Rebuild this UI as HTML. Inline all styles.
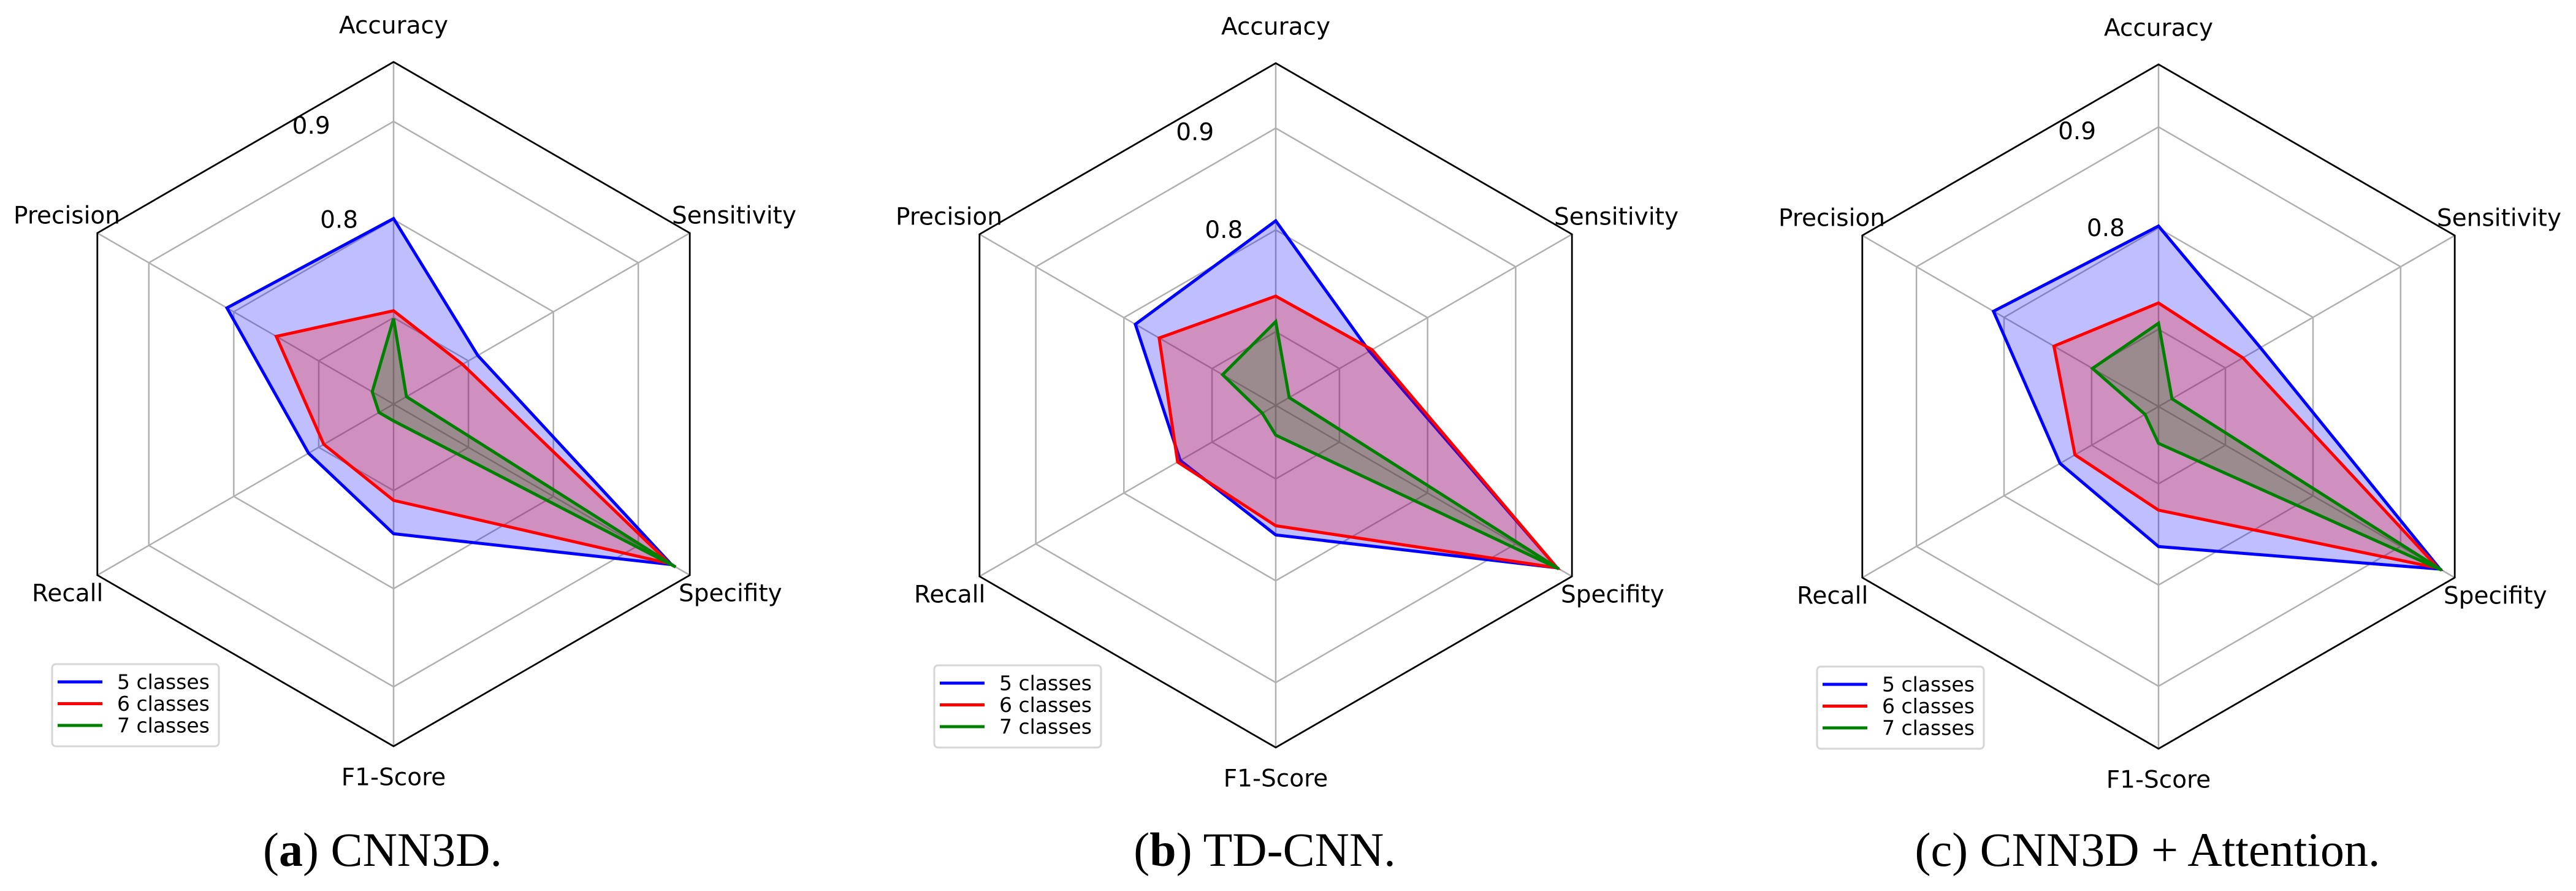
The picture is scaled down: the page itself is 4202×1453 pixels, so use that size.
<!DOCTYPE html>
<html><head><meta charset="utf-8">
<style>
html,body{margin:0;padding:0;background:#fff;}
svg{display:block;}
text{font-family:"DejaVu Sans","Liberation Sans",sans-serif;}
.cap{font-family:"Liberation Serif",serif;}
</style></head>
<body>
<svg id="fig" width="4202" height="1453" viewBox="0 0 4202 1453" xmlns="http://www.w3.org/2000/svg"></svg>
<script>
const categories = ["Accuracy","Sensitivity","Specifity","F1-Score","Recall","Precision"];
const seriesNames = ["5 classes","6 classes","7 classes"];
const tickValues = [0.7,0.8,0.9];
const tickLabels = ["0.8","0.9"];
// chart a: CNN3D
const cnn3d5 = [0.801,0.711,0.939,0.744,0.712,0.808];
const cnn3d6 = [0.707,0.693,0.937,0.710,0.694,0.750];
const cnn3d7 = [0.699,0.627,0.944,0.629,0.629,0.637];
// chart b: TD-CNN
const tdcnn5 = [0.809,0.734,0.947,0.755,0.736,0.787];
const tdcnn6 = [0.735,0.737,0.947,0.746,0.739,0.760];
const tdcnn7 = [0.710,0.643,0.949,0.657,0.643,0.688];
// chart c: CNN3D + Attention
const att5 = [0.802,0.740,0.945,0.762,0.736,0.812];
const att6 = [0.726,0.720,0.943,0.726,0.719,0.743];
const att7 = [0.706,0.639,0.947,0.660,0.639,0.699];

const NS="http://www.w3.org/2000/svg";
const svg=document.getElementById('fig');
const colors=["#0000ff","#ff0000","#008000"];
const charts=[
 {cx:642,cy:659,r08:301,r09:461,data:[cnn3d5,cnn3d6,cnn3d7],key:"cnn3d",caption:["(","a",") CNN3D."]},
 {cx:2081,cy:661,r08:286,r09:452,data:[tdcnn5,tdcnn6,tdcnn7],key:"td-cnn",caption:["(","b",") TD-CNN."]},
 {cx:3521,cy:663,r08:291,r09:456,data:[att5,att6,att7],key:"cnn3d-attention",caption:["(c) CNN3D + Attention.","",""]}
];
const R=558;
function mk(tag,attrs,parent){const e=document.createElementNS(NS,tag);for(const k in attrs)e.setAttribute(k,attrs[k]);(parent||svg).appendChild(e);return e;}
function ang(i){return (90-60*i)*Math.PI/180;}

charts.forEach(ch=>{
  const g=mk('g',{});
  
  
  const rScale=v=>ch.r08+(v-0.8)*(ch.r09-ch.r08)/0.1;
  const pt=(i,r)=>[ch.cx+r*Math.cos(ang(i)), ch.cy-r*Math.sin(ang(i))];
  const hex=r=>categories.map((c,i)=>pt(i,r).map(n=>n.toFixed(1)).join(',')).join(' ');
  // grid rings
  tickValues.forEach(t=>{
    const p=mk('polygon',{points:hex(rScale(t)),fill:'none',stroke:'#b0b0b0','stroke-width':2.5},g);
    
    
  });
  // spokes
  categories.forEach((c,i)=>{
    const e=pt(i,R);
    const l=mk('line',{x1:ch.cx,y1:ch.cy,x2:e[0],y2:e[1],stroke:'#b0b0b0','stroke-width':2.5},g);
    
    
  });
  // series
  ch.data.forEach((vals,s)=>{
    const pts=vals.map((v,i)=>pt(i,rScale(v)).map(n=>n.toFixed(1)).join(',')).join(' ');
    const f=mk('polygon',{points:pts,fill:colors[s],'fill-opacity':0.25,stroke:'none'},g);
    
    
    const o=mk('polygon',{points:pts,fill:'none',stroke:colors[s],'stroke-width':5,'stroke-linejoin':'miter'},g);
    
    
  });
  // frame
  const fr=mk('polygon',{points:hex(R),fill:'none',stroke:'#000','stroke-width':2.8},g);
  
  
  // tick labels
  tickLabels.forEach(t=>{
    const r=rScale(parseFloat(t))+12;
    const a=(90+16.5)*Math.PI/180;
    const tx=mk('text',{x:ch.cx+r*Math.cos(a),y:ch.cy-r*Math.sin(a),'font-size':39,'text-anchor':'middle','dominant-baseline':'central',fill:'#000'},g);
    tx.textContent=t;
    
    
  });
  // category labels
  const lp=[[0,-617,'middle'],[454,-307,'start'],[465,309,'start'],[0,609,'middle'],[-590,309,'start'],[-620,-307,'start']];
  categories.forEach((c,i)=>{
    const p=lp[i];
    const tx=mk('text',{x:ch.cx+p[0],y:ch.cy+p[1],'font-size':39,'text-anchor':p[2],'dominant-baseline':'central',fill:'#000'},g);
    tx.textContent=c;
    
    
  });
  // legend
  const lg=mk('g',{},g);
  
  
  const lx=ch.cx-557, ly=ch.cy+424;
  mk('rect',{x:lx,y:ly,width:272,height:134,rx:6,fill:'#fff',stroke:'#d6d6d6','stroke-width':3},lg);
  seriesNames.forEach((n,s)=>{
    const y=ly+29+s*35.5;
    const e=mk('g',{},lg);
    
    
    mk('line',{x1:lx+9,y1:y,x2:lx+82,y2:y,stroke:colors[s],'stroke-width':5},e);
    const t=mk('text',{x:lx+106,y:y,'font-size':33,'dominant-baseline':'central',fill:'#000'},e);
    t.textContent=n;
  });
  // caption
  const cp=mk('text',{x:ch.cx-18,y:1412,'font-size':78,'text-anchor':'middle',fill:'#000',class:'cap'},svg);
  
  
  if(ch.caption[1]){
    const a=mk('tspan',{},cp);a.textContent=ch.caption[0];
    const b=mk('tspan',{'font-weight':'bold'},cp);b.textContent=ch.caption[1];
    const c=mk('tspan',{},cp);c.textContent=ch.caption[2];
  } else {
    cp.textContent=ch.caption[0];
  }
});
</script>
</body></html>
